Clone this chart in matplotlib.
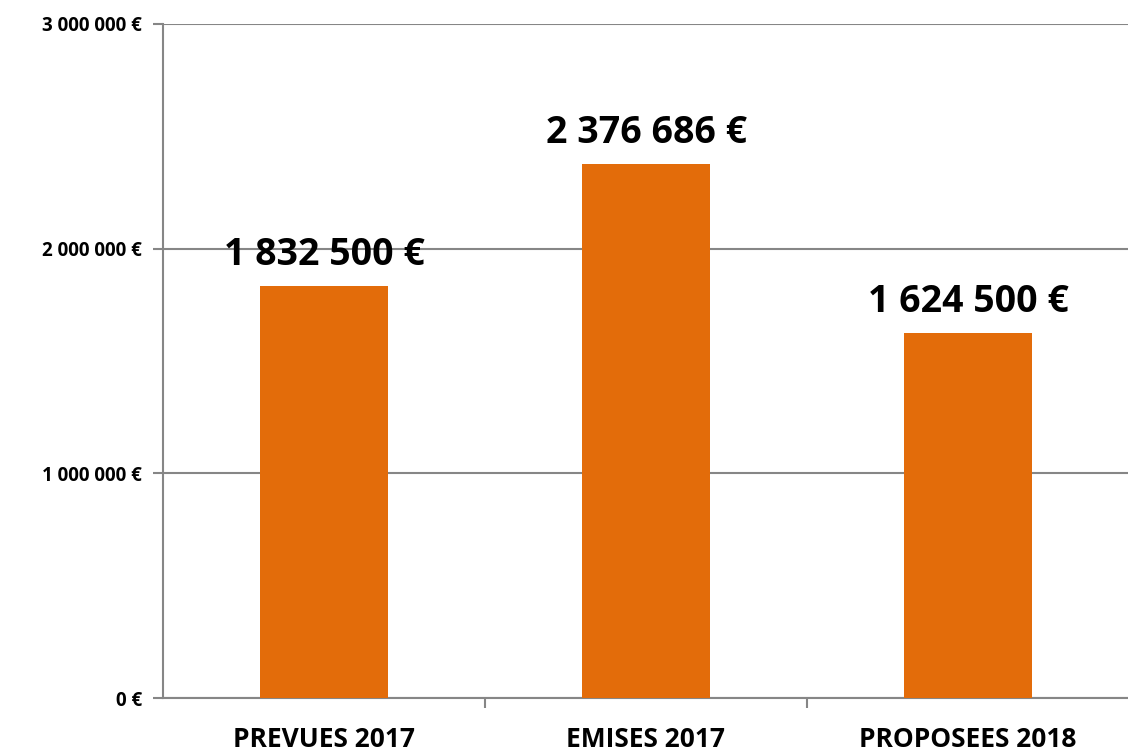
import matplotlib
matplotlib.use("Agg")
import matplotlib.pyplot as plt
from matplotlib.ticker import FixedLocator

categories = ["PREVUES 2017", "EMISES 2017", "PROPOSEES 2018"]
values = [1832500, 2376686, 1624500]
value_labels = ["1 832 500 €", "2 376 686 €", "1 624 500 €"]
yticks = [0, 1000000, 2000000, 3000000]
ytick_labels = ["0 €", "1 000 000 €", "2 000 000 €", "3 000 000 €"]

plt.rcParams['font.family'] = ['Open Sans', 'DejaVu Sans']

fig = plt.figure(figsize=(11.28, 7.52), dpi=100)
ax = fig.add_axes([163/1128, (752-698)/752, (1129-163)/1128, (698-24)/752])

x = list(range(len(categories)))
ax.bar(x, values, width=0.4, color="#E36C0A", zorder=3)
ax.set_xlim(-0.5, 2.5)
ax.set_ylim(0, 3000000)

ax.set_yticks(yticks)
ax.set_yticklabels(ytick_labels, fontsize=13.5, fontweight='bold')
ax.yaxis.grid(True, color="#868686", linewidth=1.5, zorder=0)
ax.set_xticks(x)
ax.set_xticklabels(categories, fontsize=19, fontweight='bold')
ax.xaxis.set_minor_locator(FixedLocator([0.5, 1.5]))
ax.tick_params(axis='x', which='major', length=0, pad=20)
ax.tick_params(axis='x', which='minor', length=7, width=1.5, color="#868686")
ax.tick_params(axis='y', length=7, width=1.5, color="#868686", pad=8)

for s in ["top", "right"]:
    ax.spines[s].set_visible(False)
for s in ["left", "bottom"]:
    ax.spines[s].set_color("#868686")
    ax.spines[s].set_linewidth(1.5)

for xi, v, lab in zip(x, values, value_labels):
    ax.annotate(lab, (xi, v), xytext=(0, 9), textcoords="offset points",
                ha="center", va="bottom", fontsize=27, fontweight='bold')

fig.savefig("out.png", dpi=100)
